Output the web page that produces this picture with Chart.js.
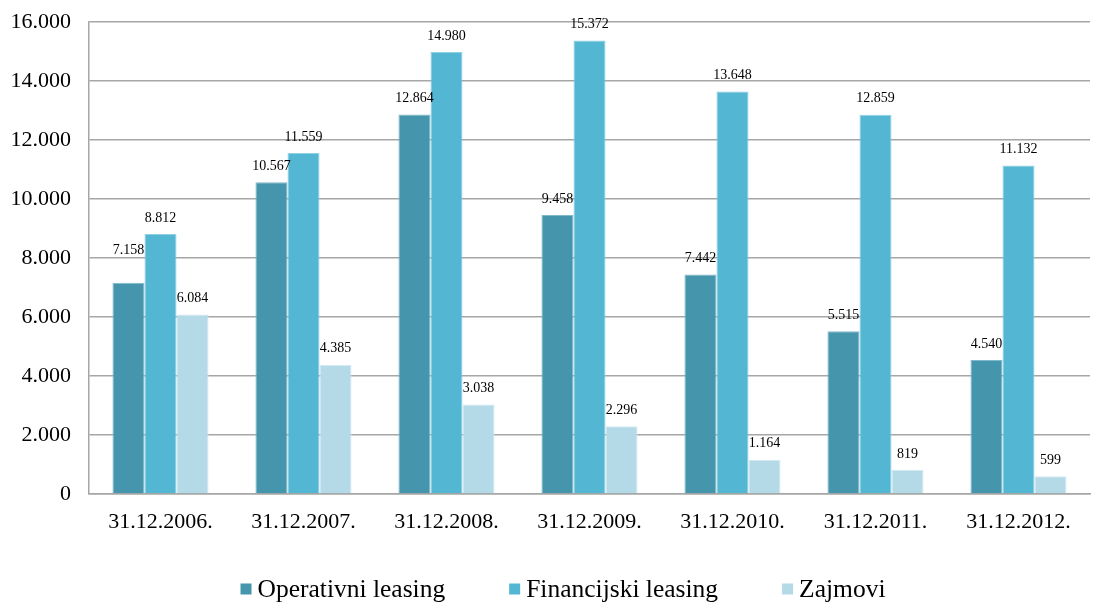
<!DOCTYPE html>
<html>
<head>
<meta charset="utf-8">
<script src="https://cdn.jsdelivr.net/npm/chart.js@4"></script>
<style>
  html, body { margin: 0; padding: 0; background: #fff; }
  #wrap { width: 1093px; height: 603px; }
</style>
</head>
<body>
<div id="wrap"><canvas id="c" width="1093" height="603"></canvas></div>
<script>
const categories = ['31.12.2006.', '31.12.2007.', '31.12.2008.', '31.12.2009.', '31.12.2010.', '31.12.2011.', '31.12.2012.'];
const operativniLeasing = [7158, 10567, 12864, 9458, 7442, 5515, 4540];
const financijskiLeasing = [8812, 11559, 14980, 15372, 13648, 12859, 11132];
const zajmovi = [6084, 4385, 3038, 2296, 1164, 819, 599];
const yTicks = [0, 2000, 4000, 6000, 8000, 10000, 12000, 14000, 16000];

const SERIF = "'Liberation Serif', 'Times New Roman', serif";

function fmt(v) {
  return String(v).replace(/\B(?=(\d{3})+(?!\d))/g, '.');
}

// value labels above each bar
const valueLabels = {
  id: 'valueLabels',
  afterDatasetsDraw(chart) {
    const ctx = chart.ctx;
    ctx.save();
    ctx.font = '14px ' + SERIF;
    ctx.fillStyle = '#000';
    ctx.textAlign = 'center';
    ctx.textBaseline = 'middle';
    chart.data.datasets.forEach((ds, di) => {
      const meta = chart.getDatasetMeta(di);
      meta.data.forEach((bar, i) => {
        let lift = 16;
        if (di === 0 && i === 0) lift = 33;
        ctx.fillText(fmt(ds.data[i]), bar.x, bar.y - lift);
      });
    });
    ctx.restore();
  }
};

// legend row under the axis: square swatch + series name
const bottomLegend = {
  id: 'bottomLegend',
  afterDraw(chart) {
    const ctx = chart.ctx;
    const box = 11, gapText = 6, gapItem = 64, centerX = 563, y = 590;
    ctx.save();
    ctx.font = '25.5px ' + SERIF;
    ctx.textBaseline = 'middle';
    ctx.textAlign = 'left';
    const items = chart.data.datasets.map(ds => ({
      text: ds.label, color: ds.backgroundColor, w: ctx.measureText(ds.label).width
    }));
    let total = items.reduce((s, it) => s + box + gapText + it.w, 0) + gapItem * (items.length - 1);
    let x = centerX - total / 2;
    items.forEach(it => {
      ctx.fillStyle = it.color;
      ctx.fillRect(x, y - box / 2 - 1, box, box);
      ctx.fillStyle = '#000';
      ctx.fillText(it.text, x + box + gapText, y);
      x += box + gapText + it.w + gapItem;
    });
    ctx.restore();
  }
};

new Chart(document.getElementById('c'), {
  type: 'bar',
  data: {
    labels: categories,
    datasets: [
      { label: 'Operativni leasing', data: operativniLeasing, backgroundColor: '#4596ad', borderColor: '#7fb9ca', borderWidth: 1 },
      { label: 'Financijski leasing', data: financijskiLeasing, backgroundColor: '#53b6d2', borderColor: '#8fd0e3', borderWidth: 1 },
      { label: 'Zajmovi', data: zajmovi, backgroundColor: '#b4d9e7', borderColor: '#d3eaf2', borderWidth: 1 }
    ]
  },
  options: {
    responsive: false,
    animation: false,
    devicePixelRatio: 1,
    layout: { padding: { top: 22, right: 3, left: 0, bottom: 53 } },
    datasets: { bar: { categoryPercentage: 0.672, barPercentage: 1 } },
    scales: {
      x: {
        grid: { display: false, drawTicks: false },
        border: { display: true, color: '#a6a6a6', width: 1.5 },
        ticks: { color: '#000', font: { family: SERIF, size: 22 }, padding: 15, maxRotation: 0 },
        afterFit(scale) { scale.height = 56; }
      },
      y: {
        min: 0, max: 16000,
        afterBuildTicks(scale) { scale.ticks = yTicks.map(v => ({ value: v })); },
        grid: { color: '#a6a6a6', lineWidth: 1.5, drawTicks: false },
        border: { display: true, color: '#a6a6a6', width: 1.5 },
        ticks: { color: '#000', font: { family: SERIF, size: 22 }, padding: 18, callback: v => fmt(v) },
        afterFit(scale) {
          scale.width = 89;
          scale.paddingTop = 4;
          scale.paddingBottom = 4;
        }
      }
    },
    plugins: {
      legend: { display: false },
      tooltip: { enabled: false }
    }
  },
  plugins: [valueLabels, bottomLegend]
});
</script>
</body>
</html>
